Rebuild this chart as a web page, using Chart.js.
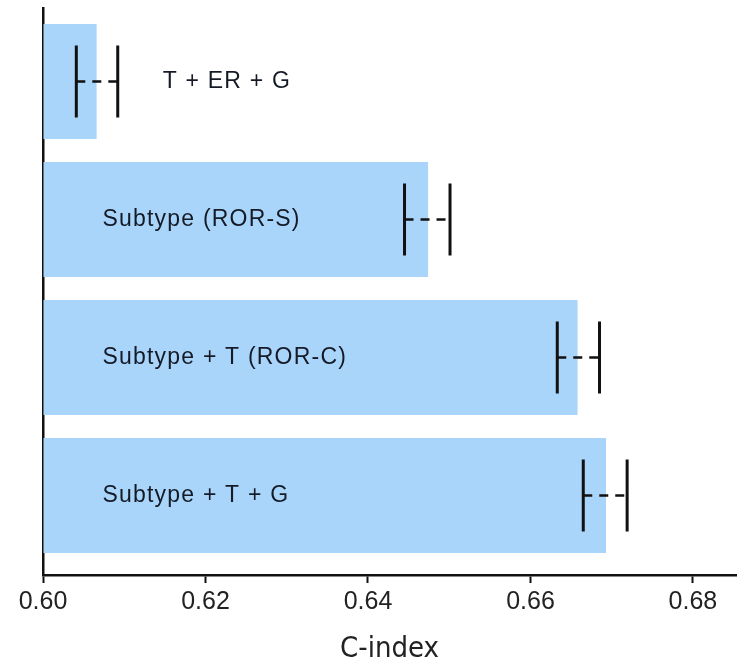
<!DOCTYPE html>
<html>
<head>
<meta charset="utf-8">
<script src="https://cdn.jsdelivr.net/npm/chart.js@4.4.1/dist/chart.umd.min.js"></script>
<style>
html,body{margin:0;padding:0;background:#fff;}
#wrap{width:746px;height:671px;}
</style>
</head>
<body>
<div id="wrap"><canvas id="cindexChart"></canvas></div>
<script>
// data
const models = ['T + ER + G', 'Subtype (ROR-S)', 'Subtype + T (ROR-C)', 'Subtype + T + G'];
const cIndex = [0.6066, 0.6474, 0.6658, 0.6693];
const ciLow = [0.6041, 0.6445, 0.6633, 0.6665];
const ciHigh = [0.6092, 0.6501, 0.6685, 0.6719];
const xTicks = [0.60, 0.62, 0.64, 0.66, 0.68];

// error bars (solid ends, dashed middle) + model labels
const errorBars = {
  id: 'errorBars',
  afterDatasetsDraw(chart){
    const ctx = chart.ctx;
    const x = chart.scales.x;
    const y = chart.scales.y;
    ctx.save();
    ctx.strokeStyle = '#111';
    for(let i=0;i<models.length;i++){
      let yc = y.getPixelForValue(i);
      let x1 = x.getPixelForValue(ciLow[i]);
      let x2 = x.getPixelForValue(ciHigh[i]);
      ctx.setLineDash([]);
      ctx.lineWidth = 3;
      ctx.beginPath();
      ctx.moveTo(x1, yc-36); ctx.lineTo(x1, yc+36);
      ctx.moveTo(x2, yc-36); ctx.lineTo(x2, yc+36);
      ctx.stroke();
      ctx.lineWidth = 2.5;
      ctx.setLineDash([9,7]);
      ctx.beginPath();
      ctx.moveTo(x1, yc); ctx.lineTo(x2, yc);
      ctx.stroke();

      // label: first one sits right of its error bar
      ctx.setLineDash([]);
      ctx.fillStyle = '#141a26';
      ctx.font = '23px "Liberation Sans", Arial, sans-serif';
      ctx.letterSpacing = '1.2px';
      ctx.textBaseline = 'middle';
      ctx.textAlign = 'left';
      let lx = i === 0 ? x2 + 45 : x.left + 59.5;
      ctx.fillText(models[i], lx, yc);
    }
    ctx.restore();
  }
};

const ctx1 = document.getElementById('cindexChart').getContext('2d');
const chart = new Chart(ctx1, {
  type: 'bar',
  data: {
    datasets: [{
      data: cIndex.map((v, i) => ({ x: v, y: i })),
      backgroundColor: 'rgb(170,213,251)',
      borderWidth: 0,
      base: 0.60,
      categoryPercentage: 0.833,
      barPercentage: 1.0
    }]
  },
  options: {
    indexAxis: 'y',
    responsive: true,
    maintainAspectRatio: false,
    animation: false,
    layout: { padding: { left: 43, right: 10, top: 8, bottom: 0 } },
    plugins: {
      legend: { display: false },
      tooltip: { enabled: false }
    },
    scales: {
      x: {
        type: 'linear',
        min: 0.60,
        max: 0.6853,
        afterBuildTicks: axis => { axis.ticks = xTicks.map(v => ({ value: v })); },
        afterFit: s => { s.height = 96; },
        grid: { display: true, drawOnChartArea: false, drawTicks: true, tickLength: 8, tickWidth: 2, tickColor: '#111' },
        border: { display: true, color: '#111', width: 2.5 },
        ticks: {
          padding: 4,
          color: '#222',
          font: { family: '"Liberation Sans", Arial, sans-serif', size: 25 },
          callback: v => v.toFixed(2)
        },
        title: {
          display: true,
          text: 'C-index',
          color: '#222',
          padding: { top: 0, bottom: 4 },
          font: { family: '"DejaVu Sans Condensed", sans-serif', size: 29 }
        }
      },
      y: {
        type: 'linear',
        reverse: true,
        offset: false,
        min: -0.533,
        max: 3.576,
        afterBuildTicks: axis => { axis.ticks = models.map((m, i) => ({ value: i })); },
        afterFit: s => { s.width = 0; },
        grid: { display: false, offset: false },
        border: { display: true, color: '#111', width: 2.5 },
        ticks: { display: false }
      }
    }
  },
  plugins: [errorBars]
});
</script>
</body>
</html>
